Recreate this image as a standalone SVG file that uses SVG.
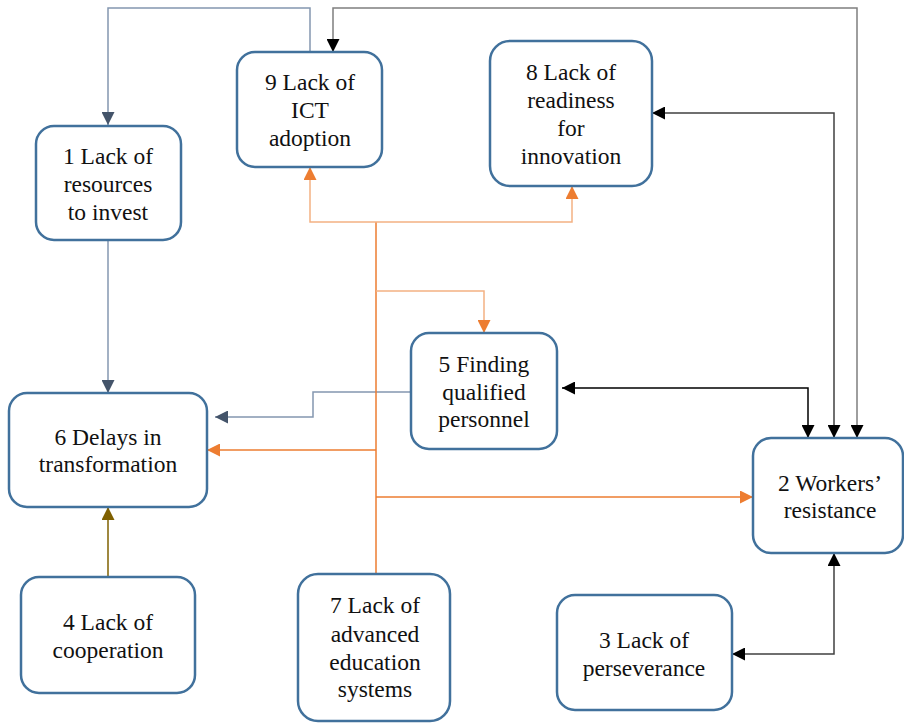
<svg xmlns="http://www.w3.org/2000/svg" width="904" height="723" viewBox="0 0 904 723">
<style>
.box{fill:#fff;stroke:#41719c;stroke-width:2.5}
.c{fill:none;stroke-width:1.5}
</style>
<defs>
<marker id="ak" viewBox="0 0 12 12" refX="12" refY="6" markerWidth="13" markerHeight="13" markerUnits="userSpaceOnUse" orient="auto-start-reverse"><path d="M0,0L12,6L0,12z" fill="#000"/></marker>
<marker id="as" viewBox="0 0 12 12" refX="12" refY="6" markerWidth="13" markerHeight="13" markerUnits="userSpaceOnUse" orient="auto"><path d="M0,0L12,6L0,12z" fill="#44546a"/></marker>
<marker id="ao" viewBox="0 0 12 12" refX="12" refY="6" markerWidth="13" markerHeight="13" markerUnits="userSpaceOnUse" orient="auto"><path d="M0,0L12,6L0,12z" fill="#ed7d31"/></marker>
<marker id="ab" viewBox="0 0 12 12" refX="12" refY="6" markerWidth="13" markerHeight="13" markerUnits="userSpaceOnUse" orient="auto"><path d="M0,0L12,6L0,12z" fill="#7f6000"/></marker>
</defs>
<g id="connectors">
<path class="c" d="M310,52V8H108V125" stroke="#8497b0" marker-end="url(#as)"/>
<path class="c" d="M857,438V8H333V52" stroke="#7f7f7f" marker-start="url(#ak)" marker-end="url(#ak)"/>
<path class="c" d="M834,438V113H652" stroke="#404040" marker-start="url(#ak)" marker-end="url(#ak)"/>
<path class="c" d="M562,388H808V438" stroke="#000" marker-start="url(#ak)" marker-end="url(#ak)"/>
<path class="c" d="M732,654H834V553" stroke="#404040" marker-start="url(#ak)" marker-end="url(#ak)"/>
<path class="c" d="M411,392H313V417H215" stroke="#8497b0" marker-end="url(#as)"/>
<path class="c" d="M108,240V393" stroke="#8497b0" marker-end="url(#as)"/>
<path class="c" d="M108,577V507" stroke="#7f6000" marker-end="url(#ab)"/>
<path class="c" d="M376,574V222" stroke="#ed7d31" stroke-width="2"/>
<path class="c" d="M376,222H310V167" stroke="#f4b183" marker-end="url(#ao)"/>
<path class="c" d="M376,222H572V186" stroke="#f4b183" marker-end="url(#ao)"/>
<path class="c" d="M376,291H484V333" stroke="#f4b183" marker-end="url(#ao)"/>
<path class="c" d="M376,450H207" stroke="#ed7d31" marker-end="url(#ao)"/>
<path class="c" d="M376,497H753" stroke="#ed7d31" marker-end="url(#ao)"/>
</g>
<g font-family="Liberation Serif, DejaVu Serif, serif" font-size="23.5" fill="#111" text-anchor="middle">
<g id="n1"><rect class="box" x="36" y="126" width="145" height="114" rx="18"/>
<text x="108" y="164">1 Lack of</text><text x="108" y="192">resources</text><text x="108" y="220">to invest</text></g>
<g id="n9"><rect class="box" x="237" y="52" width="145" height="115" rx="18"/>
<text x="310" y="90">9 Lack of</text><text x="310" y="118">ICT</text><text x="310" y="146">adoption</text></g>
<g id="n8"><rect class="box" x="490" y="41" width="162" height="145" rx="20"/>
<text x="571" y="80">8 Lack of</text><text x="571" y="108">readiness</text><text x="571" y="136">for</text><text x="571" y="164">innovation</text></g>
<g id="n6"><rect class="box" x="9" y="393" width="198" height="114" rx="18"/>
<text x="108" y="445">6 Delays in</text><text x="108" y="472">transformation</text></g>
<g id="n5"><rect class="box" x="411" y="333" width="146" height="116" rx="18"/>
<text x="484" y="372">5 Finding</text><text x="484" y="400">qualified</text><text x="484" y="427">personnel</text></g>
<g id="n2"><rect class="box" x="753" y="438" width="150" height="115" rx="18"/>
<text x="830" y="491">2 Workers’</text><text x="830" y="518">resistance</text></g>
<g id="n4"><rect class="box" x="21" y="577" width="174" height="116" rx="18"/>
<text x="108" y="630">4 Lack of</text><text x="108" y="658">cooperation</text></g>
<g id="n7"><rect class="box" x="298" y="574" width="152" height="147" rx="20"/>
<text x="375" y="613">7 Lack of</text><text x="375" y="642">advanced</text><text x="375" y="670">education</text><text x="375" y="697">systems</text></g>
<g id="n3"><rect class="box" x="557" y="595" width="175" height="115" rx="18"/>
<text x="644" y="648">3 Lack of</text><text x="644" y="676">perseverance</text></g>
</g>
</svg>
